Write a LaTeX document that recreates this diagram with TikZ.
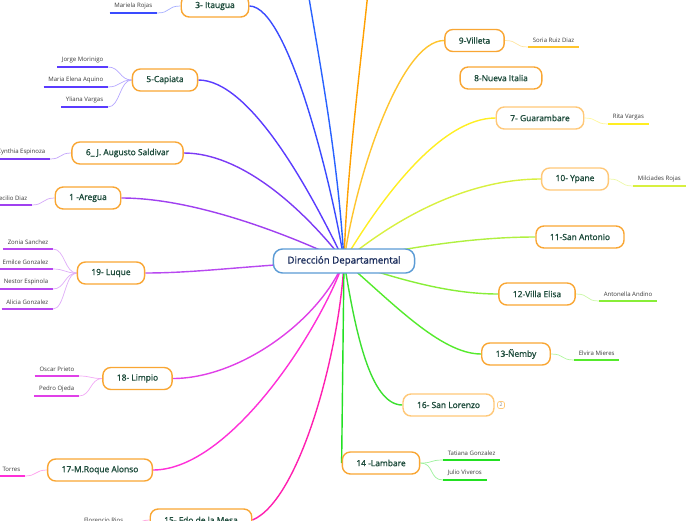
\documentclass[tikz,border=0pt]{standalone}
\usepackage{fontspec}
\setmainfont{Open Sans}
\newfontfamily\semifont{Open Sans}[FakeBold=1.2]
\usepackage{tikz}
\usetikzlibrary{positioning, backgrounds}
\newlength{\pxu}\setlength{\pxu}{0.025cm}
\definecolor{rootBorder}{HTML}{5B9BD5}
\definecolor{rootText}{HTML}{1B2D5C}
\definecolor{topicBorder}{HTML}{F9A633}
\definecolor{topicLight}{HTML}{FFC878}
\definecolor{topicText}{HTML}{1D4B3B}
\definecolor{leafText}{HTML}{3A3A3A}
\definecolor{cUpBlue}{HTML}{2962FF}
\definecolor{cItaugua}{HTML}{3A4BFF}
\definecolor{cCapiata}{HTML}{5A3CFF}
\definecolor{cSaldivar}{HTML}{7B3AF5}
\definecolor{cAregua}{HTML}{A040F0}
\definecolor{cLuque}{HTML}{B848F0}
\definecolor{cLimpio}{HTML}{E040E8}
\definecolor{cRoque}{HTML}{FF30D8}
\definecolor{cFdo}{HTML}{FF20B0}
\definecolor{cUpOrange}{HTML}{FFA000}
\definecolor{cVilleta}{HTML}{FFC52E}
\definecolor{cGuarambare}{HTML}{FFEE22}
\definecolor{cYpane}{HTML}{D8F040}
\definecolor{cAntonio}{HTML}{B0F040}
\definecolor{cElisa}{HTML}{88EE38}
\definecolor{cNemby}{HTML}{55EA2C}
\definecolor{cLorenzo}{HTML}{3CE030}
\definecolor{cLambare}{HTML}{22E022}
\tikzset{
  mmroot/.style={
    draw=rootBorder, line width=1pt, fill=white,
    rounded corners=9\pxu, minimum height=24\pxu, inner xsep=14\pxu,
    font=\semifont\fontsize{6.9}{8}\selectfont, text=rootText
  },
  topicbox/.style={
    draw=topicBorder, line width=1pt, fill=white,
    rounded corners=8\pxu, minimum height=22\pxu, inner xsep=14\pxu,
    font=\semifont\fontsize{6.0}{7.2}\selectfont, text=topicText
  },
  topiclt/.style={topicbox, draw=topicLight},
  badge/.style={
    draw=topicLight, line width=0.5pt, rounded corners=1.5pt,
    minimum size=7\pxu, inner sep=0pt,
    font=\fontsize{3.5}{4}\selectfont, text=gray
  },
  leafnote/.style={
    inner xsep=4.5\pxu, inner ysep=0pt, minimum height=13\pxu,
    font=\fontsize{4.3}{5}\selectfont, text=leafText
  },
  trunk/.style={line width=1pt, #1},
  twig/.style={line width=0.5pt, #1!45},
  uline/.style={line width=1.4pt, #1}
}
\begin{document}
\begin{tikzpicture}[x=0.025cm, y=-0.025cm]
\clip (0,0) rectangle (696,520);

% Root
\node[mmroot] (dir) at (344,261) {Dirección Departamental};

% Left topics
\node[topicbox] (itaugua) at (215,6) {3- Itaugua};
\node[topicbox] (capiata) at (165,80) {5-Capiata};
\node[topicbox] (saldivar) at (127.5,153) {6\_ J. Augusto Saldivar};
\node[topicbox] (aregua) at (88,198) {1 -Aregua};
\node[topicbox] (luque) at (111,273) {19- Luque};
\node[topicbox] (limpio) at (137.5,378.5) {18- Limpio};
\node[topicbox] (roque) at (100,470) {17-M.Roque Alonso};
\node[topicbox] (fdo) at (201,520) {15- Fdo de la Mesa};

% Right topics
\node[topicbox] (villeta) at (474.5,40.5) {9-Villeta};
\node[topicbox] (italia) at (501,78) {8-Nueva Italia};
\node[topiclt] (guarambare) at (540,118) {7- Guarambare};
\node[topiclt] (ypane) at (575,179) {10- Ypane};
\node[topicbox] (antonio) at (580,237) {11-San Antonio};
\node[topicbox] (elisa) at (537,294) {12-Villa Elisa};
\node[topicbox] (nemby) at (516,354) {13-Ñemby};
\node[topiclt] (lorenzo) at (448.5,405) {16- San Lorenzo};
\node[topicbox] (lambare) at (381,463) {14 -Lambare};
\node[badge, right=2.5\pxu of lorenzo] (nsub) {2};

% Leaves, left side
\node[leafnote, anchor=south east] (mrojas) at (157,13) {Mariela Rojas};
\node[leafnote, anchor=south east] (morinigo) at (108,67) {Jorge Morinigo};
\node[leafnote, anchor=south east] (aquino) at (108,87) {Maria Elena Aquino};
\node[leafnote, anchor=south east] (yvargas) at (108,107) {Yliana Vargas};
\node[leafnote, anchor=south east] (espinoza) at (50,159) {Cynthia Espinoza};
\node[leafnote, anchor=south east] (cdiaz) at (32,205) {Cecilio Diaz};
\node[leafnote, anchor=south east] (sanchez) at (53,249) {Zonia Sanchez};
\node[leafnote, anchor=south east] (egonzalez) at (53,269) {Emilce Gonzalez};
\node[leafnote, anchor=south east] (espinola) at (53,289) {Nestor Espinola};
\node[leafnote, anchor=south east] (agonzalez) at (53,309) {Alicia Gonzalez};
\node[leafnote, anchor=south east] (prieto) at (79,376) {Oscar Prieto};
\node[leafnote, anchor=south east] (ojeda) at (79,396) {Pedro Ojeda};
\node[leafnote, anchor=south east] (torres) at (25,476) {Torres};
\node[leafnote, anchor=south east] (rios) at (128,527) {Florencio Rios};

% Leaves, right side
\node[leafnote, anchor=south west] (ruizdiaz) at (528,47) {Soria Ruiz Diaz};
\node[leafnote, anchor=south west] (rvargas) at (608,124) {Rita Vargas};
\node[leafnote, anchor=south west] (mirojas) at (633,186) {Milciades Rojas};
\node[leafnote, anchor=south west] (andino) at (599,301) {Antonella Andino};
\node[leafnote, anchor=south west] (mieres) at (574,360) {Elvira Mieres};
\node[leafnote, anchor=south west] (tgonzalez) at (443,460) {Tatiana Gonzalez};
\node[leafnote, anchor=south west] (viveros) at (443,480) {Julio Viveros};

\coordinate (upblue) at (308,-8);
\coordinate (uporange) at (368,-8);

\begin{scope}[on background layer]
% Main branches
\draw[trunk=cUpBlue] (dir.center) .. controls (338,160) and (321,70) .. (upblue);
\draw[trunk=cUpOrange] (dir.center) .. controls (347,170) and (360,70) .. (uporange);
\draw[trunk=cItaugua] (dir.center) .. controls (335,200) and (290,6) .. (itaugua.east);
\draw[trunk=cCapiata] (dir.center) .. controls (310,190) and (250,80) .. (capiata.east);
\draw[trunk=cSaldivar] (dir.center) .. controls (300,205) and (240,153) .. (saldivar.east);
\draw[trunk=cAregua] (dir.center) .. controls (300,240) and (200,198) .. (aregua.east);
\draw[trunk=cLuque] (dir.center) .. controls (250,265) and (200,273) .. (luque.east);
\draw[trunk=cLimpio] (dir.center) .. controls (320,320) and (240,378.5) .. (limpio.east);
\draw[trunk=cRoque] (dir.center) .. controls (320,330) and (230,470) .. (roque.east);
\draw[trunk=cFdo] (dir.center) .. controls (340,350) and (300,500) .. (fdo.east);
\draw[trunk=cVilleta] (dir.center) .. controls (355,180) and (400,40.5) .. (villeta.west);
\draw[trunk=cGuarambare] (dir.center) .. controls (380,200) and (440,118) .. (guarambare.west);
\draw[trunk=cYpane] (dir.center) .. controls (400,215) and (470,179) .. (ypane.west);
\draw[trunk=cAntonio] (dir.center) .. controls (420,245) and (480,237) .. (antonio.west);
\draw[trunk=cElisa] (dir.center) .. controls (400,280) and (450,294) .. (elisa.west);
\draw[trunk=cNemby] (dir.center) .. controls (390,300) and (440,354) .. (nemby.west);
\draw[trunk=cLorenzo] (dir.center) .. controls (355,330) and (370,405) .. (lorenzo.west);
\draw[trunk=cLambare] (dir.center) -- (lambare.west);

% Twigs to the leaves
\draw[twig=cItaugua] (mrojas.south east) .. controls +(14,0) and +(-14,0) .. (itaugua.west);
\foreach \l in {morinigo,aquino,yvargas}
  \draw[twig=cCapiata] (\l.south east) .. controls +(12,0) and +(-12,0) .. (capiata.west);
\draw[twig=cSaldivar] (espinoza.south east) .. controls +(12,0) and +(-12,0) .. (saldivar.west);
\draw[twig=cAregua] (cdiaz.south east) .. controls +(12,0) and +(-12,0) .. (aregua.west);
\foreach \l in {sanchez,egonzalez,espinola,agonzalez}
  \draw[twig=cLuque] (\l.south east) .. controls +(12,0) and +(-12,0) .. (luque.west);
\foreach \l in {prieto,ojeda}
  \draw[twig=cLimpio] (\l.south east) .. controls +(12,0) and +(-12,0) .. (limpio.west);
\draw[twig=cRoque] (torres.south east) .. controls +(12,0) and +(-12,0) .. (roque.west);
\draw[twig=cFdo] (rios.south east) .. controls +(12,0) and +(-12,0) .. (fdo.west);
\draw[twig=cVilleta] (villeta.east) .. controls +(14,0) and +(-14,0) .. (ruizdiaz.south west);
\draw[twig=cGuarambare] (guarambare.east) .. controls +(14,0) and +(-14,0) .. (rvargas.south west);
\draw[twig=cYpane] (ypane.east) .. controls +(14,0) and +(-14,0) .. (mirojas.south west);
\draw[twig=cElisa] (elisa.east) .. controls +(14,0) and +(-14,0) .. (andino.south west);
\draw[twig=cNemby] (nemby.east) .. controls +(14,0) and +(-14,0) .. (mieres.south west);
\foreach \l in {tgonzalez,viveros}
  \draw[twig=cLambare] (lambare.east) .. controls +(14,0) and +(-14,0) .. (\l.south west);
\end{scope}

% Underlines of the leaves
\foreach \l/\c in {mrojas/cItaugua, morinigo/cCapiata, aquino/cCapiata, yvargas/cCapiata,
    espinoza/cSaldivar, cdiaz/cAregua, sanchez/cLuque, egonzalez/cLuque,
    espinola/cLuque, agonzalez/cLuque, prieto/cLimpio, ojeda/cLimpio,
    torres/cRoque, rios/cFdo, ruizdiaz/cVilleta, rvargas/cGuarambare,
    mirojas/cYpane, andino/cElisa, mieres/cNemby, tgonzalez/cLambare, viveros/cLambare}
  \draw[uline=\c] (\l.south west) -- (\l.south east);

\end{tikzpicture}
\end{document}
